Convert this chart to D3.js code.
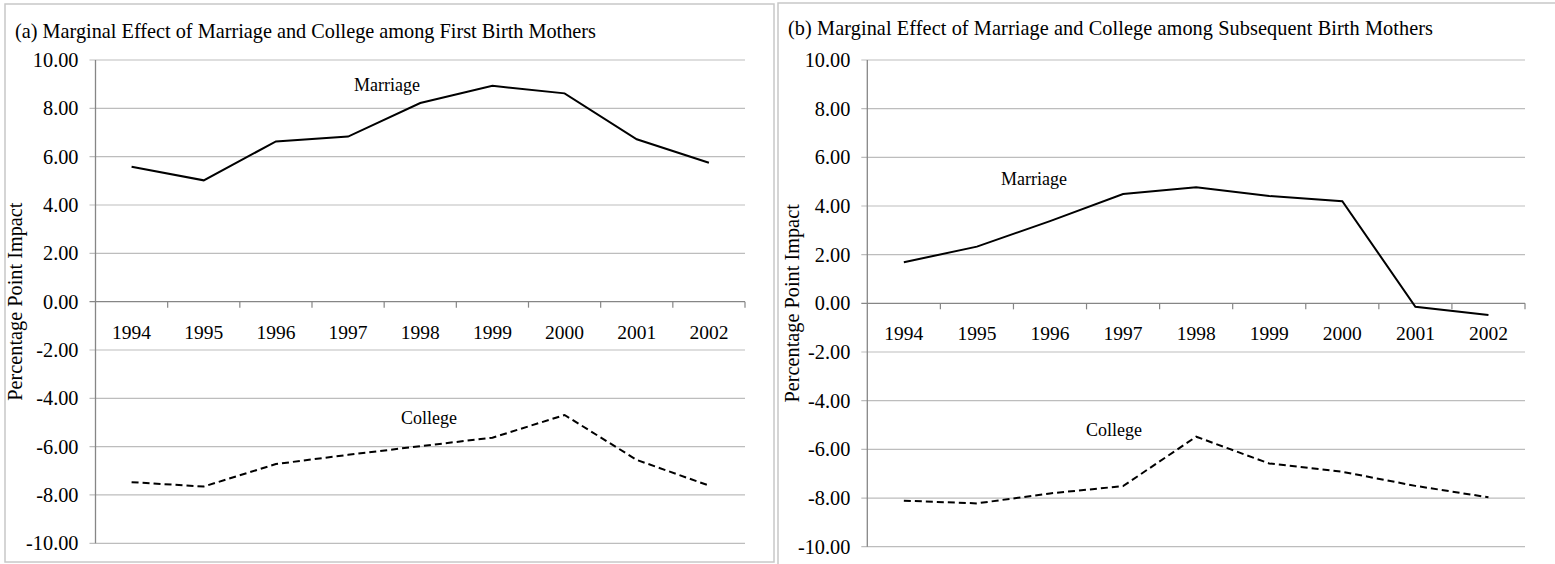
<!DOCTYPE html>
<html>
<head>
<meta charset="utf-8">
<script src="https://cdn.jsdelivr.net/npm/d3@7"></script>
<style>
  body { margin: 0; background: #fff; }
  svg text { font-family: "Liberation Serif", "Times New Roman", serif; fill: #000; }
</style>
</head>
<body>
<div id="chart"></div>
<script>
// data
var years = ["1994", "1995", "1996", "1997", "1998", "1999", "2000", "2001", "2002"];
var yTicks = [10, 8, 6, 4, 2, 0, -2, -4, -6, -8, -10];

var marriageFirst = [5.58, 5.02, 6.63, 6.83, 8.22, 8.93, 8.62, 6.72, 5.75];
var collegeFirst = [-7.47, -7.65, -6.72, -6.34, -5.98, -5.63, -4.69, -6.55, -7.61];

var marriageSubsequent = [1.69, 2.33, 3.38, 4.49, 4.77, 4.41, 4.20, -0.14, -0.48];
var collegeSubsequent = [-8.11, -8.22, -7.81, -7.51, -5.48, -6.58, -6.92, -7.50, -7.97];

var panelTitles = [
    "(a) Marginal Effect of Marriage and College among First Birth Mothers",
    "(b) Marginal Effect of Marriage and College among Subsequent Birth Mothers"
];

function main() {

    var svg = d3.select("#chart")
        .append("svg")
        .attr("width", 1555)
        .attr("height", 564);

    // excel style labels use a plain hyphen for negatives
    var fmt = d3.formatLocale({decimal: ".", thousands: ",", grouping: [3], currency: ["", ""], minus: "-"}).format(".2f");

    // panel layout (frame + plot area)
    var panels = [
        {title: panelTitles[0], marriage: marriageFirst, college: collegeFirst,
         frame: [5, 4, 769, 558], plot: {left: 95.5, right: 745, top: 60, bottom: 543.3},
         titleX: 15, titleY: 38, titleW: 581, labelX: 22,
         marriageLabel: [354, 91], collegeLabel: [401, 424]},
        {title: panelTitles[1], marriage: marriageSubsequent, college: collegeSubsequent,
         frame: [778, 3, 790, 570], plot: {left: 867.3, right: 1525, top: 60, bottom: 546.7},
         titleX: 788, titleY: 35, titleW: 645, labelX: 799,
         marriageLabel: [1001, 185], collegeLabel: [1086, 436]}
    ];

    panels.forEach(function (p) {

        // outer frame
        svg.append("rect")
            .attr("x", p.frame[0])
            .attr("y", p.frame[1])
            .attr("width", p.frame[2])
            .attr("height", p.frame[3])
            .attr("fill", "none")
            .attr("stroke", "#c8c8c8")
            .attr("stroke-width", 1.5);

        var x = d3.scaleBand()
            .domain(years)
            .range([p.plot.left, p.plot.right])
            .padding(0);

        var y = d3.scaleLinear()
            .domain([-10, 10])
            .range([p.plot.bottom, p.plot.top]);

        // horizontal gridlines
        svg.append("g")
            .selectAll("line")
            .data(yTicks.filter(function (d) { return d !== 0; }))
            .join("line")
                .attr("x1", p.plot.left - 6)
                .attr("x2", p.plot.right)
                .attr("y1", function (d) { return y(d); })
                .attr("y2", function (d) { return y(d); })
                .attr("stroke", "#bdbdbd")
                .attr("stroke-width", 1.2);

        // y axis line
        svg.append("line")
            .attr("x1", p.plot.left)
            .attr("x2", p.plot.left)
            .attr("y1", p.plot.top)
            .attr("y2", p.plot.bottom)
            .attr("stroke", "#868686")
            .attr("stroke-width", 1.3);

        // y tick labels
        svg.append("g")
            .selectAll("text")
            .data(yTicks)
            .join("text")
                .attr("x", p.plot.left - 17)
                .attr("y", function (d) { return y(d); })
                .attr("dy", "0.35em")
                .attr("text-anchor", "end")
                .attr("font-size", "20.3px")
                .text(function (d) { return fmt(d); });

        // x axis along zero
        var y0 = y(0);
        svg.append("line")
            .attr("x1", p.plot.left - 6)
            .attr("x2", p.plot.right)
            .attr("y1", y0)
            .attr("y2", y0)
            .attr("stroke", "#868686")
            .attr("stroke-width", 1.3);

        var bounds = years.map(function (d) { return x(d); }).concat([p.plot.right]);
        svg.append("g")
            .selectAll("line")
            .data(bounds.slice(1))
            .join("line")
                .attr("x1", function (d) { return d; })
                .attr("x2", function (d) { return d; })
                .attr("y1", y0)
                .attr("y2", y0 + 6)
                .attr("stroke", "#868686")
                .attr("stroke-width", 1.2);

        // year labels
        svg.append("g")
            .selectAll("text")
            .data(years)
            .join("text")
                .attr("x", function (d) { return x(d) + x.bandwidth() / 2; })
                .attr("y", y0 + 37)
                .attr("text-anchor", "middle")
                .attr("font-size", "19.5px")
                .text(function (d) { return d; });

        // y axis title
        svg.append("text")
            .attr("transform", "translate(" + p.labelX + "," + ((p.plot.top + p.plot.bottom) / 2) + ") rotate(-90)")
            .attr("text-anchor", "middle")
            .attr("font-size", "20.3px")
            .text("Percentage Point Impact");

        // panel title
        svg.append("text")
            .attr("x", p.titleX)
            .attr("y", p.titleY)
            .attr("font-size", "20.3px")
            .attr("textLength", p.titleW)
            .attr("lengthAdjust", "spacing")
            .text(p.title);

        var line = d3.line()
            .x(function (d, i) { return x(years[i]) + x.bandwidth() / 2; })
            .y(function (d) { return y(d); });

        svg.append("path")
            .attr("d", line(p.marriage))
            .attr("fill", "none")
            .attr("stroke", "#000")
            .attr("stroke-width", 2);

        svg.append("path")
            .attr("d", line(p.college))
            .attr("fill", "none")
            .attr("stroke", "#000")
            .attr("stroke-width", 2)
            .attr("stroke-dasharray", "7,4");

        // series labels
        svg.append("text")
            .attr("x", p.marriageLabel[0])
            .attr("y", p.marriageLabel[1])
            .attr("font-size", "18px")
            .text("Marriage");

        svg.append("text")
            .attr("x", p.collegeLabel[0])
            .attr("y", p.collegeLabel[1])
            .attr("font-size", "18px")
            .text("College");
    });
}

main()
</script>
</body>
</html>
